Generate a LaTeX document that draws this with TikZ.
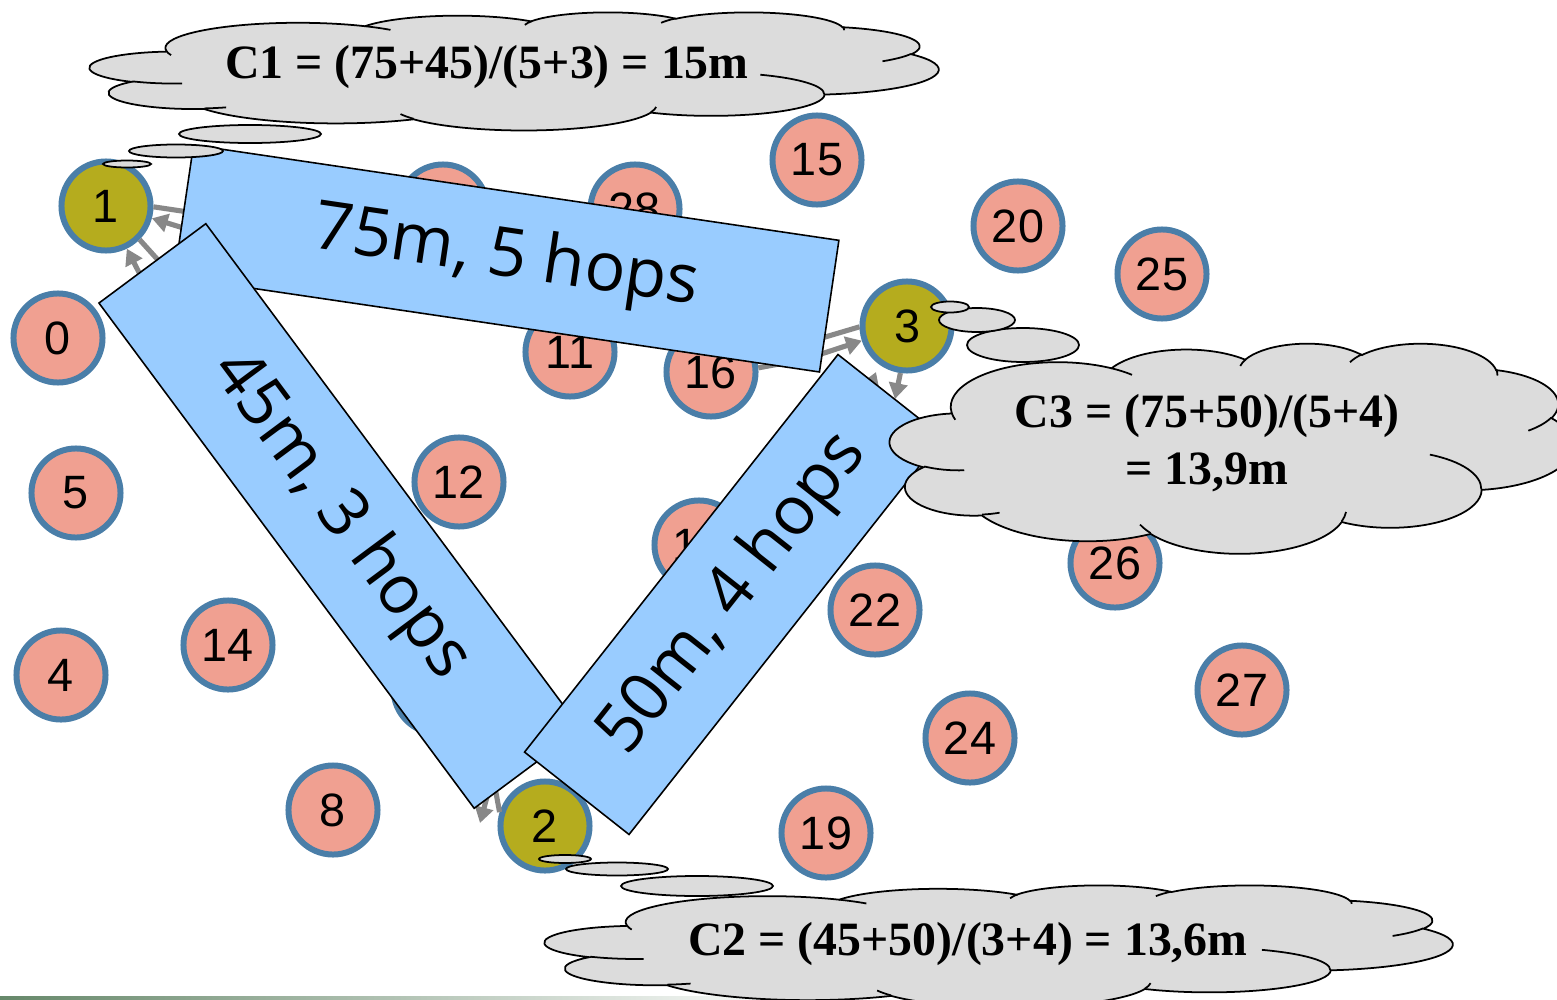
\documentclass[tikz,border=0pt]{standalone}
\usepackage{fontspec}
\setmainfont{Liberation Sans}
\newfontfamily\bandfont{Open Sans}
\newfontfamily\cloudfont{Liberation Serif}
\usetikzlibrary{arrows.meta}

\definecolor{nodesalmon}{RGB}{240,160,145}
\definecolor{nodeolive}{RGB}{181,172,30}
\definecolor{ringblue}{RGB}{74,126,168}
\definecolor{bandblue}{RGB}{153,204,255}
\definecolor{cloudgray}{RGB}{220,220,220}
\definecolor{linkgray}{RGB}{136,136,136}
\definecolor{barsage}{RGB}{102,136,106}

\tikzset{
  sensor/.style={circle, draw=ringblue, line width=1.7pt, fill=nodesalmon,
    minimum size=0.89cm, inner sep=0pt, font=\fontsize{13.3}{15}\selectfont},
  headnode/.style={sensor, fill=nodeolive},
  band/.style={draw=black, line width=0.45pt, fill=bandblue, inner sep=0pt,
    minimum height=1.33cm, font=\bandfont\fontsize{19.3}{23}\selectfont},
  link/.style={draw=linkgray, line width=1.45pt},
  linkarrow/.style={link, -{Triangle[length=4.5pt,width=5.2pt]}},
  bubble/.style={draw=black, line width=0.5pt, fill=cloudgray},
  cloudline/.style={draw=black, line width=0.5pt},
  cloudtext/.style={font=\cloudfont\bfseries\fontsize{13.6}{16.2}\selectfont,
    align=center, inner sep=0pt}
}

% elliptic arc given by radii, visual start angle and sweep (y axis downwards)
\newcommand\cloudarc[4]{arc[x radius=#1, y radius=#2,
  start angle={atan2(#1*sin(#3),#2*cos(#3))},
  delta angle={mod(atan2(#1*sin(#3+#4),#2*cos(#3+#4))-atan2(#1*sin(#3),#2*cos(#3))+720,360)}]}

% cloud outline in a 43.2 x 43.2 frame, placed at left/top with width/height
\newcommand\pptcloud[4]{%
  \pgfmathsetmacro\cloudsx{#3/4320}%
  \pgfmathsetmacro\cloudsy{#4/4320}%
  \begin{scope}[shift={(#1,#2)}, x=\cloudsx cm, y=-\cloudsy cm]
    \filldraw[bubble] (3.9,14.37)
      \cloudarc{6.753}{9.19}{-190.4875}{123.7805}
      \cloudarc{5.333}{7.267}{-144.1024}{89.9452}
      \cloudarc{4.365}{5.945}{-145.8079}{99.7230}
      \cloudarc{4.857}{6.595}{-130.9861}{117.2417}
      \cloudarc{5.333}{7.273}{-78.7089}{109.0269}
      \cloudarc{6.775}{9.22}{-46.2673}{130.2690}
      \cloudarc{5.785}{7.867}{0.6250}{114.0333}
      \cloudarc{6.752}{9.215}{22.4516}{115.1726}
      \cloudarc{7.72}{10.543}{66.2426}{75.7110}
      \cloudarc{4.36}{5.918}{-274.9421}{146.7356}
      \cloudarc{4.345}{5.945}{-246.8285}{152.5189}
      -- cycle;
    \draw[cloudline]
      (4.693,26.177) \cloudarc{4.345}{5.945}{86.7420}{26.4295}
      (6.928,34.899) \cloudarc{4.36}{5.918}{73.6105}{11.4475}
      (16.478,39.09) \cloudarc{6.752}{9.215}{137.6242}{14.0811}
      (28.827,34.751) \cloudarc{6.752}{9.215}{6.4533}{15.9984}
      (34.129,22.954) \cloudarc{5.785}{7.867}{-70.2924}{70.9174}
      (41.798,15.354) \cloudarc{5.333}{7.273}{30.3180}{27.7515}
      (38.324,5.426) \cloudarc{4.857}{6.595}{-13.7443}{14.8510}
      (29.078,3.952) \cloudarc{4.857}{6.595}{-149.1815}{18.1932}
      (22.141,4.72) \cloudarc{4.365}{5.945}{-163.4943}{17.6981}
      (14.0,5.192) \cloudarc{6.753}{9.19}{-66.7070}{12.3194}
      (4.127,15.789) \cloudarc{6.753}{9.19}{157.6544}{11.8582};
  \end{scope}}

\begin{document}
\begin{tikzpicture}[x=0.01cm, y=-0.01cm]
  \path[use as bounding box] (0,0) rectangle (1557,1000);
  \clip (0,0) rectangle (1557,1000);
  \fill[white] (0,0) rectangle (1557,1000);

  % footer band
  \shade[left color=barsage, right color=white] (0,996) rectangle (800,1000);

  % sensor field
  \node[headnode] (n1) at (106,206) {1};
  \node[headnode] (n2) at (545,826) {2};
  \node[headnode] (n3) at (907,326) {3};
  \node[sensor] (n0)  at (58,338)   {0};
  \node[sensor] (n5)  at (76,493)   {5};
  \node[sensor] (n4)  at (61,675)   {4};
  \node[sensor] (n14) at (228,645)  {14};
  \node[sensor] (n8)  at (333,810)  {8};
  \node[sensor] (n12) at (459,482)  {12};
  \node[sensor] (n11) at (570,352)  {11};
  \node[sensor] (n16) at (711,372)  {16};
  \node[sensor] (nh1) at (443,209)  {};
  \node[sensor] (n28) at (635,209)  {28};
  \node[sensor] (n13) at (699,545)  {13};
  \node[sensor] (nh2) at (438,689)  {};
  \node[sensor] (n15) at (817,160)  {15};
  \node[sensor] (n20) at (1018,226) {20};
  \node[sensor] (n25) at (1162,274) {25};
  \node[sensor] (n26) at (1115,563) {26};
  \node[sensor] (n22) at (875,610)  {22};
  \node[sensor] (n27) at (1242,690) {27};
  \node[sensor] (n24) at (970,738)  {24};
  \node[sensor] (n19) at (826,833)  {19};

  % loose ends of the routes, hidden below the bands
  \coordinate (c1a) at (195,213);
  \coordinate (c1b) at (190,230);
  \coordinate (c1c) at (167,270);
  \coordinate (c1d) at (148,290);
  \coordinate (c3a) at (815,340);
  \coordinate (c3b) at (815,356);
  \coordinate (c3c) at (895,399);
  \coordinate (c3d) at (866,398);
  \coordinate (c3e) at (876,372);
  \coordinate (c16) at (790,362);
  \coordinate (c2a) at (491,782);
  \coordinate (c2b) at (480,823);
  \coordinate (c2c) at (494,782);

  % route links
  \draw[link] (n1.-1) -- (c1a);
  \draw[linkarrow] (c1b) -- (n1.-15);
  \draw[link] (n1.-45) -- (c1c);
  \draw[linkarrow] (c1d) -- (n1.-64);
  \draw[link] (n3.181) -- (c3a);
  \draw[linkarrow] (c3b) -- (n3.198);
  \draw[linkarrow] (n3.262) -- (c3c);
  \draw[linkarrow] (c3d) -- (c3e);
  \draw[link] (n16.5) -- (c16);
  \draw[linkarrow] (c2a) -- (c2b);
  \draw[link] (c2c) -- (n2.163);

  % aggregated paths
  \node[band, minimum width=6.52cm, rotate=-8.4]  (r75) at (506.5,258.5) {75m, 5 hops};
  \node[band, minimum width=6.29cm, rotate=-53.4] (r45) at (340,516) {45m, 3 hops};
  \node[band, minimum width=5.06cm, rotate=51.75] (r50) at (733.5,594.5) {50m, 4 hops};

  % thought bubbles of node 1
  \draw[bubble] (250,134) ellipse [x radius=71, y radius=9];
  \draw[bubble] (176,151) ellipse [x radius=47, y radius=6.5];
  \draw[bubble] (127,164) ellipse [x radius=24, y radius=3.5];
  \pptcloud{90}{12}{848}{118}
  \node[cloudtext] (t1) at (487,67) {C1 = (75+45)/(5+3) = 15m};

  % thought bubbles of node 3
  \draw[bubble] (1023,345) ellipse [x radius=56, y radius=17];
  \draw[bubble] (977,320) ellipse [x radius=38, y radius=12];
  \draw[bubble] (950,307) ellipse [x radius=19, y radius=5.5];
  \pptcloud{890}{343}{683}{210}
  \node[cloudtext] (t3) at (1207,443) {C3 = (75+50)/(5+4)\\= 13,9m};

  % thought bubbles of node 2
  \draw[bubble] (697,886) ellipse [x radius=76, y radius=10];
  \draw[bubble] (617,869) ellipse [x radius=51, y radius=6.5];
  \draw[bubble] (565,859) ellipse [x radius=26, y radius=4];
  \pptcloud{545}{885}{907}{122}
  \node[cloudtext] (t2) at (968,944) {C2 = (45+50)/(3+4) = 13,6m};
\end{tikzpicture}
\end{document}
